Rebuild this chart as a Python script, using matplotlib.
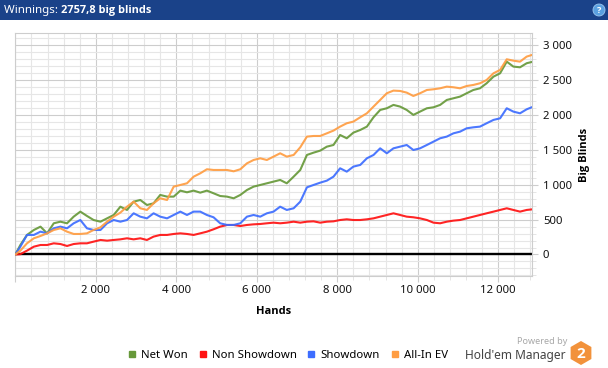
"""Holdem Manager style winnings graph."""

import matplotlib
matplotlib.use("Agg")
import matplotlib.pyplot as plt
from matplotlib.patches import RegularPolygon, Circle, Rectangle
from matplotlib.ticker import MultipleLocator, FuncFormatter
from matplotlib.lines import Line2D

plt.rcParams["font.family"] = ["Noto Sans", "DejaVu Sans"]
BOLD = ["Open Sans", "DejaVu Sans"]

# data (hands played -> big blinds)
hands = [
    0, 125, 290, 460, 625, 790, 955, 1120, 1285, 1450, 1615, 1780, 1945, 2115,
    2280, 2445, 2610, 2775, 2940, 3105, 3270, 3435, 3600, 3770, 3935, 4100,
    4265, 4430, 4595, 4760, 4925, 5090, 5260, 5425, 5590, 5755, 5920, 6085,
    6250, 6415, 6580, 6745, 6915, 7080, 7245, 7410, 7575, 7740, 7905, 8070,
    8235, 8400, 8570, 8735, 8900, 9065, 9230, 9395, 9560, 9725, 9890, 10055,
    10225, 10390, 10555, 10720, 10885, 11050, 11215, 11380, 11545, 11710,
    11880, 12045, 12210, 12375, 12540, 12705, 12830,
]
net_won = [
    0, 136, 280, 351, 399, 303, 447, 470, 447, 542, 614, 552, 494, 470, 518,
    566, 685, 638, 757, 781, 709, 733, 853, 829, 829, 915, 891, 915, 886, 915,
    877, 838, 829, 805, 853, 924, 972, 996, 1020, 1044, 1068, 1020, 1115, 1211,
    1426, 1459, 1488, 1545, 1569, 1712, 1665, 1746, 1784, 1832, 1966, 2071,
    2095, 2143, 2119, 2071, 2000, 2047, 2095, 2109, 2143, 2214, 2238, 2262,
    2310, 2357, 2381, 2453, 2548, 2596, 2763, 2692, 2682, 2740, 2757.8,
]
non_showdown = [
    0, 5, 55, 112, 136, 136, 160, 150, 122, 150, 160, 160, 184, 208, 198, 208,
    217, 232, 217, 232, 208, 256, 280, 280, 294, 303, 294, 280, 303, 327, 361,
    399, 423, 423, 408, 423, 432, 437, 447, 456, 447, 456, 470, 456, 470, 475,
    456, 470, 475, 494, 504, 494, 494, 504, 518, 542, 566, 590, 566, 542, 533,
    518, 494, 456, 447, 470, 485, 494, 518, 542, 566, 590, 614, 638, 662, 638,
    614, 638, 646,
]
showdown = [
    0, 112, 280, 280, 327, 303, 375, 399, 375, 447, 494, 375, 351, 351, 447,
    494, 470, 494, 590, 542, 518, 590, 542, 518, 566, 614, 566, 614, 614, 566,
    533, 447, 423, 423, 447, 542, 566, 542, 590, 614, 685, 638, 662, 757, 962,
    996, 1029, 1058, 1115, 1235, 1187, 1259, 1283, 1378, 1426, 1521, 1450,
    1521, 1545, 1569, 1497, 1521, 1569, 1617, 1665, 1689, 1736, 1760, 1808,
    1822, 1832, 1880, 1928, 1951, 2095, 2047, 2023, 2080, 2109,
]
all_in_ev = [
    0, 55, 160, 232, 265, 303, 351, 375, 327, 294, 294, 303, 351, 389, 470,
    542, 600, 685, 757, 662, 638, 733, 805, 781, 972, 996, 1020, 1115, 1163,
    1221, 1211, 1211, 1211, 1192, 1221, 1306, 1354, 1378, 1354, 1402, 1450,
    1402, 1426, 1536, 1689, 1698, 1698, 1736, 1775, 1832, 1880, 1904, 1966,
    2023, 2119, 2214, 2310, 2348, 2343, 2319, 2271, 2310, 2357, 2367, 2381,
    2405, 2396, 2381, 2414, 2429, 2453, 2500, 2596, 2644, 2797, 2777, 2763,
    2835, 2858,
]

series_names = ["Net Won", "Non Showdown", "Showdown", "All-In EV"]
series_values = [net_won, non_showdown, showdown, all_in_ev]
series_colors = ["#67993a", "#ff1212", "#3d6dff", "#ff9d42"]

header_label = "Winnings: "
header_value = "2757,8 big blinds"

fig = plt.figure(figsize=(6.08, 3.68), dpi=100)
fig.patch.set_facecolor("white")
ax = fig.add_axes([0.0252, 0.2508, 0.8493, 0.6587])

for name, vals, col in zip(series_names, series_values, series_colors):
    ax.plot(hands, vals, color=col, lw=1.5, alpha=0.92, zorder=3)
ax.axhline(0, color="black", lw=1.7, zorder=2.5)

ax.set_xlim(0, 12830)
ax.set_ylim(-304, 3169)


def fmt_thousands(v, pos):
    if v <= 0 and pos is not None and v != 0:
        return ""
    return f"{int(v):,}".replace(",", " ")


def fmt_hands(v, pos):
    if v <= 0:
        return ""
    return f"{int(v):,}".replace(",", " ")


ax.xaxis.set_major_locator(MultipleLocator(2000))
ax.xaxis.set_minor_locator(MultipleLocator(400))
ax.yaxis.set_major_locator(MultipleLocator(500))
ax.yaxis.set_minor_locator(MultipleLocator(100))
ax.xaxis.set_major_formatter(FuncFormatter(fmt_hands))
ax.yaxis.set_major_formatter(FuncFormatter(fmt_thousands))
ax.yaxis.tick_right()
ax.yaxis.set_label_position("right")

for s in ax.spines.values():
    s.set_color("#cdcdcd")
    s.set_linewidth(0.8)

ax.tick_params(which="major", length=4, color="#cdcdcd", labelsize=8.2,
               labelcolor="#111111", pad=3)
ax.tick_params(which="minor", length=3, color="#e0e0e0")
ax.tick_params(axis="y", which="major", pad=4)

ax.set_xlabel("Hands", fontsize=8, fontweight="bold", family=BOLD, labelpad=7)
ax.set_ylabel("Big Blinds", fontsize=8, fontweight="bold", family=BOLD, labelpad=5)

ax.set_axisbelow(True)
ax.xaxis.grid(True, which="major", color="#cdcdcd", lw=0.8)
ax.yaxis.grid(True, which="major", color="#cdcdcd", lw=0.8)
ax.xaxis.grid(True, which="minor", color="#e6e6e6", lw=0.8)
ax.yaxis.grid(True, which="minor", color="#e6e6e6", lw=0.8)

# header bar
fig.patches.append(Rectangle((0, 1 - 20 / 368), 1, 20 / 368, transform=fig.transFigure,
                             facecolor="#1a4289", edgecolor="none"))
t1 = fig.text(4 / 608, 1 - 10 / 368, header_label, color="white", fontsize=8.3,
              va="center", ha="left")
fig.canvas.draw()
bb = t1.get_window_extent()
fig.text(bb.x1 / 608, 1 - 10 / 368, header_value, color="white", fontsize=7.9,
         fontweight="bold", family=BOLD, va="center", ha="left")
px = fig.dpi_scale_trans
fig.patches.append(Circle((5.99, 3.68 - 0.10), 0.06, transform=px,
                          facecolor="#5aa0e0", edgecolor="#9cc8f0", lw=0.6))
fig.text(599 / 608, 1 - 10.5 / 368, "?", color="white", fontsize=6.5,
         fontweight="bold", family=BOLD, ha="center", va="center")

# legend
handles = [Line2D([], [], ls="", marker="s", ms=5, color=c) for c in series_colors]
fig.legend(handles, series_names, loc="center", bbox_to_anchor=(0.474, 1 - 355 / 368),
           ncol=4, frameon=False, fontsize=8.2, handlelength=0.6,
           handletextpad=0.5, columnspacing=1.0, borderaxespad=0)

# branding
fig.text(567 / 608, 1 - 342 / 368, "Powered by", color="#a8a8a8", fontsize=6.5,
         ha="right", va="center")
fig.text(566 / 608, 1 - 355 / 368, "Hold'em Manager", color="#444444", fontsize=8.6,
         ha="right", va="center")
fig.patches.append(RegularPolygon((5.81, 3.68 - 3.53), 6, radius=0.12,
                                  orientation=0, transform=px,
                                  facecolor="#f2923b", edgecolor="none"))
fig.text(581 / 608, 1 - 353.5 / 368, "2", color="white", fontsize=11,
         fontweight="bold", family=BOLD, ha="center", va="center")

fig.savefig("out.png", dpi=100)
